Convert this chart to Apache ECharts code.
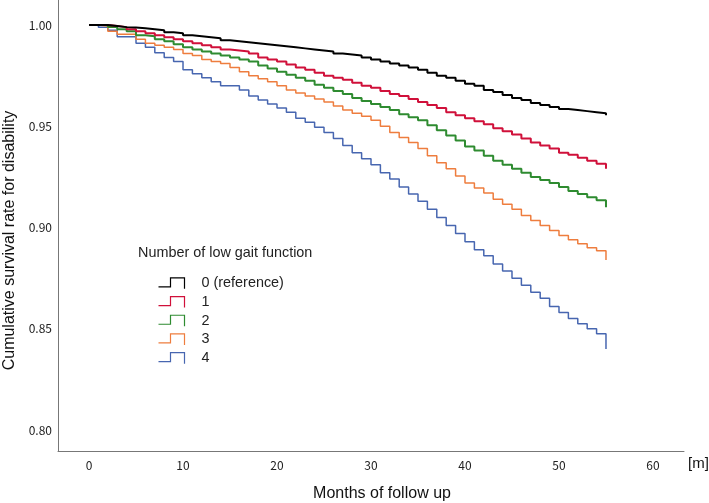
<!DOCTYPE html>
<html>
<head>
<meta charset="utf-8">
<script src="https://cdn.jsdelivr.net/npm/echarts@6/dist/echarts.min.js"></script>
<style>html,body{margin:0;padding:0;background:#fff}#c{width:709px;height:503px}</style>
</head>
<body>
<div id="c"></div>
<script>
var months = [0,1,2,3,4,5,6,7,8,9,10,11,12,13,14,15,16,17,18,19,20,21,22,23,24,25,26,27,28,29,30,31,32,33,34,35,36,37,38,39,40,41,42,43,44,45,46,47,48,49,50,51,52,53,54,55];
var seriesNames = ['0 (reference)', '1', '2', '3', '4'];
var xTickLabels = [0,10,20,30,40,50,60];
var yTickLabels = [0.80,0.85,0.90,0.95,1.00];
var lastMonth = 55;

var group0 = [1.000,1.000,0.9995,0.999,0.9988,0.9985,0.998,0.9975,0.9965,0.996,0.995,0.9945,0.994,0.9935,0.9925,0.992,0.9915,0.991,0.9905,0.990,0.9895,0.989,0.9885,0.988,0.9875,0.987,0.986,0.9855,0.985,0.984,0.983,0.982,0.981,0.980,0.979,0.978,0.9765,0.975,0.974,0.9725,0.971,0.970,0.968,0.967,0.9655,0.964,0.963,0.9615,0.9605,0.9595,0.9585,0.958,0.9575,0.957,0.9565,0.956];
var group1 = [1.000,1.000,0.9995,0.999,0.998,0.997,0.996,0.995,0.994,0.993,0.992,0.991,0.990,0.989,0.988,0.9875,0.987,0.986,0.984,0.983,0.982,0.9805,0.979,0.978,0.9765,0.975,0.974,0.973,0.9715,0.970,0.969,0.9675,0.966,0.965,0.9635,0.962,0.9605,0.959,0.957,0.9555,0.954,0.9525,0.951,0.949,0.9475,0.946,0.944,0.942,0.9405,0.939,0.937,0.936,0.9345,0.933,0.9315,0.930];
var group2 = [1.000,1.000,0.999,0.998,0.997,0.995,0.9945,0.993,0.992,0.9905,0.989,0.988,0.987,0.986,0.985,0.984,0.983,0.982,0.980,0.9785,0.977,0.9755,0.974,0.9725,0.9705,0.969,0.9675,0.966,0.964,0.9625,0.961,0.9595,0.958,0.956,0.9545,0.953,0.9505,0.948,0.9455,0.943,0.940,0.938,0.9355,0.933,0.931,0.929,0.927,0.925,0.9235,0.922,0.920,0.918,0.9165,0.915,0.9135,0.912];
var group3 = [1.000,0.9995,0.997,0.9955,0.9955,0.993,0.991,0.990,0.989,0.988,0.986,0.985,0.983,0.982,0.981,0.979,0.977,0.975,0.9735,0.972,0.970,0.968,0.9665,0.965,0.9635,0.962,0.960,0.958,0.9565,0.955,0.953,0.950,0.947,0.9445,0.942,0.939,0.9355,0.932,0.929,0.9255,0.922,0.9195,0.917,0.914,0.9115,0.909,0.906,0.9035,0.901,0.8985,0.896,0.894,0.892,0.890,0.8885,0.887];
var group4 = [1.000,0.9989,0.9975,0.9942,0.9942,0.991,0.989,0.9863,0.984,0.982,0.978,0.976,0.974,0.972,0.970,0.970,0.968,0.965,0.963,0.961,0.959,0.957,0.954,0.952,0.9495,0.947,0.944,0.9405,0.937,0.934,0.931,0.927,0.924,0.920,0.9165,0.913,0.909,0.905,0.901,0.897,0.893,0.889,0.886,0.882,0.8785,0.875,0.8715,0.868,0.865,0.861,0.858,0.855,0.8525,0.850,0.8475,0.845];
var endValues = [0.9555, 0.929, 0.910, 0.884, 0.840];

var groups = [group0, group1, group2, group3, group4];
var colors = ['#000000', '#D0103A', '#2E8B30', '#EE7D3E', '#4766B0'];
var widths = [2, 2, 2, 1.5, 1.5];

var series = groups.map(function (g, i) {
  var data = months.map(function (m, k) { return [m, g[k]]; });
  data.push([lastMonth, endValues[i]]);
  return {
    name: seriesNames[i],
    type: 'line',
    step: 'end',
    showSymbol: false,
    symbol: 'none',
    silent: true,
    animation: false,
    color: colors[i],
    lineStyle: { color: colors[i], width: widths[i] },
    data: data,
    z: 10 - i
  };
});

var iconPath = 'path://M0,9 L12,9 L12,0 L26,0 L26,11';

var chart = echarts.init(document.getElementById('c'), null, { renderer: 'canvas' });
chart.setOption({
  backgroundColor: '#ffffff',
  animation: false,
  title: {
    text: 'Number of low gait function',
    left: 138, top: 246, padding: 0,
    textStyle: { fontFamily: 'Liberation Sans', fontSize: 14.4, fontWeight: 'normal', color: '#222' }
  },
  legend: {
    orient: 'vertical',
    left: 156, top: 274, padding: 0,
    itemWidth: 26, itemHeight: 11, itemGap: 0,
    selectedMode: false,
    textStyle: { fontFamily: 'Liberation Sans', fontSize: 14.4, color: '#222', lineHeight: 18.7, padding: [0, 0, 0, 12] },
    data: seriesNames.map(function (n, i) {
      return { name: n, icon: iconPath, itemStyle: { color: 'none', borderColor: colors[i], borderWidth: 1.2 } };
    })
  },
  grid: { left: 58, right: 25, top: 0, bottom: 52, containLabel: false, outerBoundsMode: 'none' },
  xAxis: {
    type: 'value',
    min: -3.3, max: 63.3,
    name: 'Months of follow up',
    nameLocation: 'middle',
    nameGap: 35,
    nameTextStyle: { fontFamily: 'Liberation Sans', fontSize: 16, color: '#111', padding: [0, 0, 0, 22] },
    axisLine: { show: true, onZero: false, lineStyle: { color: '#777', width: 1 } },
    axisTick: { show: false },
    splitLine: { show: false },
    axisLabel: {
      customValues: xTickLabels,
      margin: 8,
      fontFamily: 'Noto Sans CJK JP', fontSize: 12, color: '#222'
    }
  },
  yAxis: {
    type: 'value',
    min: 0.7896, max: 1.0124,
    name: 'Cumulative survival rate for disability',
    nameLocation: 'middle',
    nameGap: 40,
    nameTextStyle: { fontFamily: 'Liberation Sans', fontSize: 16, color: '#111', padding: [0, 30, 0, 0] },
    axisLine: { show: true, onZero: false, lineStyle: { color: '#777', width: 1 } },
    axisTick: { show: false },
    splitLine: { show: false },
    axisLabel: {
      customValues: yTickLabels,
      margin: 6,
      formatter: function (v) { return v.toFixed(2); },
      fontFamily: 'Noto Sans CJK JP', fontSize: 12, color: '#222'
    }
  },
  graphic: [{
    type: 'text', left: 688, top: 456,
    style: { text: '[m]', fontFamily: 'Liberation Sans', fontSize: 15, fill: '#111' }
  }],
  series: series
});
</script>
</body>
</html>
